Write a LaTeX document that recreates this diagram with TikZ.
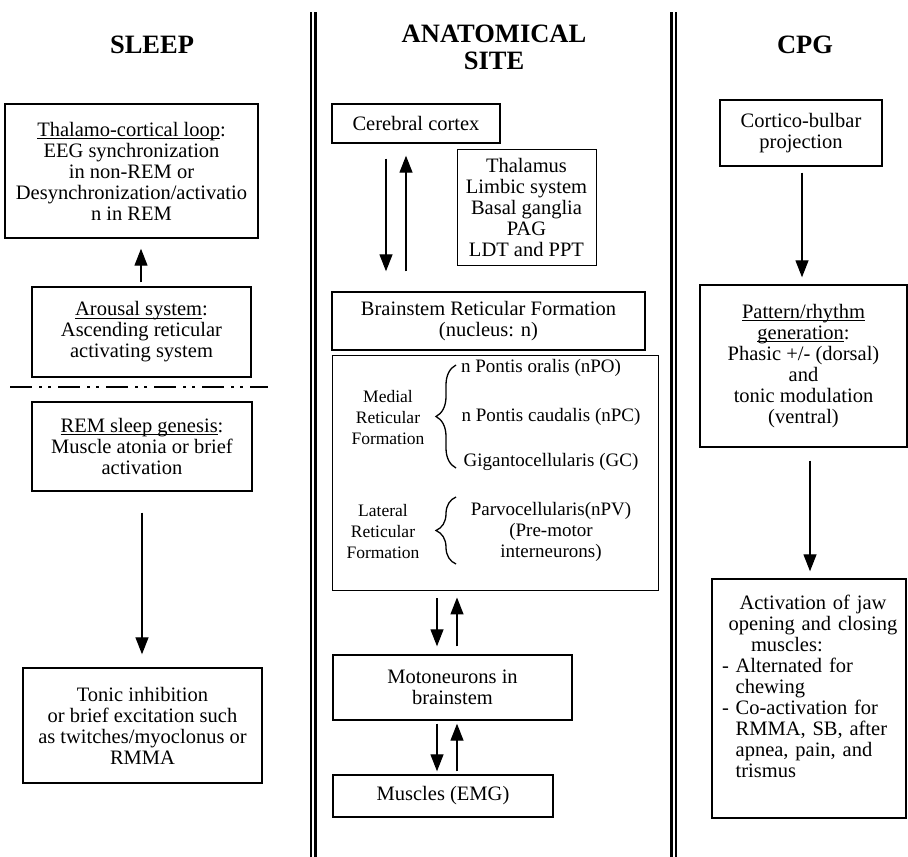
\documentclass[tikz,border=0pt]{standalone}
\usepackage{fontspec}
\setmainfont{Liberation Serif}
\usetikzlibrary{arrows.meta,calc,decorations.pathreplacing}
\newcommand{\udl}[1]{\setbox0=\hbox{#1}\rlap{\rule[-2.6pt]{\wd0}{1pt}}#1}

\begin{document}
\begin{tikzpicture}[x=1pt,y=-1pt,
    box/.style={draw,line width=1.4pt,align=center,inner sep=0pt,font=\fontsize{20.5}{21}\selectfont},
    thinbox/.style={box,line width=0.9pt},
    txt/.style={align=center,inner sep=0pt,font=\fontsize{20.5}{21}\selectfont},
    smalltxt/.style={txt,font=\fontsize{19}{21}\selectfont},
    sidetxt/.style={txt,font=\fontsize{17.5}{21}\selectfont},
    title/.style={align=center,inner sep=0pt,font=\fontsize{26.5}{27}\selectfont\bfseries},
    arr/.style={line width=1.3pt,-{Stealth[length=17pt,width=13pt,inset=0pt]}},
    sepline/.style={line width=2.4pt}]
  \useasboundingbox (0,0) rectangle (908,857);

  \draw[sepline] (311.2,12) -- (311.2,857);
  \draw[sepline] (315.5,12) -- (315.5,857);
  \draw[sepline] (671.3,12) -- (671.3,857);
  \draw[sepline] (675.8,12) -- (675.8,857);

  \node[title] (sleep) at (152,45) {SLEEP};
  \node[title] (site) at (494,47) {ANATOMICAL\\SITE};
  \node[title] (cpg) at (805,45) {CPG};

  \node[box,minimum width=253pt,minimum height=134pt] (thal) at (131.5,171)
    {\udl{Thalamo-cortical loop}:\\EEG synchronization\\in non-REM or\\Desynchronization/activatio\\n in REM};
  \node[box,minimum width=219pt,minimum height=90pt] (arousal) at (141.5,332)
    {\udl{Arousal system}:\\Ascending reticular\\activating system};
  \draw[line width=2.8pt,dash pattern=on 22pt off 7pt on 3pt off 6pt on 3pt off 7pt] (10,387) -- (268,387);
  \node[box,minimum width=220pt,minimum height=89pt] (rem) at (142,446.5)
    {\udl{REM sleep genesis}:\\Muscle atonia or brief\\activation};
  \node[box,minimum width=239pt,minimum height=115pt] (tonic) at (142.5,725.5)
    {Tonic inhibition\\or brief excitation such\\as twitches/myoclonus or\\RMMA};

  \node[box,minimum width=168pt,minimum height=39pt] (cortex) at (416,123.5) {Cerebral cortex};
  \node[thinbox,minimum width=139pt,minimum height=116pt] (thalamus) at (526.5,207)
    {Thalamus\\Limbic system\\Basal ganglia\\PAG\\LDT and PPT};
  \node[box,minimum width=313pt,minimum height=58pt] (brain) at (488.5,321)
    {Brainstem Reticular Formation\\(nucleus: n)};
  \node[thinbox,minimum width=326pt,minimum height=235pt] (retic) at (495,472.5) {};
  \node[sidetxt] (medial) at (388,418) {Medial\\Reticular\\Formation};
  \node[smalltxt] (npo) at (541,368) {n Pontis oralis (nPO)};
  \node[smalltxt] (npc) at (551,417) {n Pontis caudalis (nPC)};
  \node[smalltxt] (gc) at (551,462) {Gigantocellularis (GC)};
  \node[sidetxt] (lateral) at (383,532) {Lateral\\Reticular\\Formation};
  \node[smalltxt] (npv) at (551,532) {Parvocellularis(nPV)\\(Pre-motor\\interneurons)};
  \draw[line width=1.3pt,decorate,decoration={brace,amplitude=20pt}] (456,468) -- (456,365);
  \draw[line width=1.3pt,decorate,decoration={brace,amplitude=20pt}] (456,564) -- (456,497);
  \node[box,minimum width=239pt,minimum height=65pt] (moto) at (452.5,687.5) {Motoneurons in\\brainstem};
  \node[box,minimum width=220pt,minimum height=42pt] (muscles) at (443,796) {Muscles (EMG)};

  \node[box,minimum width=162pt,minimum height=66pt] (cortico) at (801,133) {Cortico-bulbar\\projection};
  \node[box,minimum width=207pt,minimum height=162pt] (pattern) at (803.5,366)
    {\udl{Pattern/rhythm}\\\udl{generation}:\\Phasic +/- (dorsal)\\and\\tonic modulation\\(ventral)};
  \node[box,minimum width=194pt,minimum height=239pt] (activ) at (809,698.5) {};
  \node[txt,align=left,text width=182pt] (activtxt) at (813,686)
    {\makebox[182pt]{Activation of jaw}\\
     \makebox[182pt]{opening and closing}\\
     \hspace*{29pt}muscles:\\
     - Alternated for\\
     \phantom{- }chewing\\
     - Co-activation for\\
     \phantom{- }RMMA, SB, after\\
     \phantom{- }apnea, pain, and\\
     \phantom{- }trismus};

  \draw[arr] ($(arousal.north)+(-0.5,-4)$) -- ($(thal.south)+(9.5,10)$);
  \draw[arr] ($(rem.south)+(0,21)$) -- ($(tonic.north)+(-0.5,-13)$);
  \draw[arr] ($(cortex.south)+(-30,15)$) -- ($(brain.north)+(-102.5,-20)$);
  \draw[arr] ($(brain.north)+(-82.5,-20)$) -- ($(cortex.south)+(-10,12)$);
  \draw[arr] ($(retic.south)+(-58,8)$) -- ($(moto.north)+(-15.5,-8)$);
  \draw[arr] ($(moto.north)+(4.5,-8)$) -- ($(retic.south)+(-38,7)$);
  \draw[arr] ($(moto.south)+(-15.5,3)$) -- ($(muscles.north)+(-6,-3)$);
  \draw[arr] ($(muscles.north)+(14,-3)$) -- ($(moto.south)+(4.5,3)$);
  \draw[arr] ($(cortico.south)+(1,6)$) -- ($(pattern.north)+(-1.5,-7)$);
  \draw[arr] ($(pattern.south)+(6.5,13)$) -- ($(activ.north)+(1,-7)$);
\end{tikzpicture}
\end{document}
